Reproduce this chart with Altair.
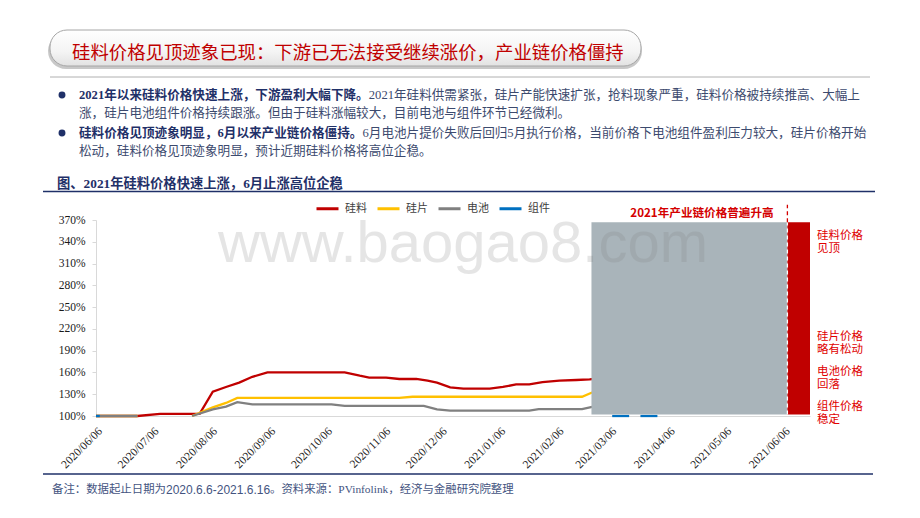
import altair as alt
import pandas as pd

# ------------------------------------------------------------------ data
series_names = ["硅料", "硅片", "电池", "组件"]
series_colors = ["#C00000", "#FFC000", "#808080", "#0070C0"]

poly_dates = ["2020-06-06", "2020-06-28", "2020-07-10", "2020-07-31", "2020-08-07",
              "2020-08-14", "2020-08-21", "2020-08-28", "2020-09-05", "2020-10-16",
              "2020-10-24", "2020-10-29", "2020-11-07", "2020-11-14", "2020-11-23",
              "2020-11-29", "2020-12-04", "2020-12-11", "2020-12-18", "2021-01-01",
              "2021-01-08", "2021-01-15", "2021-01-22", "2021-01-29", "2021-02-07",
              "2021-02-16", "2021-02-23", "2021-03-01"]
poly_values = [100, 100, 103, 103, 133.5, 140, 146, 154, 160, 160,
               155.5, 153, 153, 151, 151, 148.6, 146, 139.5, 137.6, 137.6,
               140, 143.6, 143.6, 146.8, 148.6, 149.6, 150.5, 152]

wafer_dates_1 = ["2020-06-06", "2020-06-28"]
wafer_values_1 = [100, 100]
wafer_dates_2 = ["2020-07-27", "2020-08-07", "2020-08-14", "2020-08-20", "2020-11-14",
                 "2020-11-21", "2021-02-19", "2021-02-24", "2021-03-01"]
wafer_values_2 = [100, 112, 118, 125, 125, 126.5, 126.5, 132, 136]

cell_dates_1 = ["2020-06-06", "2020-06-28"]
cell_values_1 = [100, 100]
cell_dates_2 = ["2020-07-27", "2020-08-07", "2020-08-14", "2020-08-20", "2020-08-28",
                "2020-10-09", "2020-10-16", "2020-11-27", "2020-12-04", "2020-12-11",
                "2021-01-22", "2021-01-27", "2021-02-19", "2021-02-25", "2021-03-01"]
cell_values_2 = [100, 109, 113, 119, 116, 116, 114, 114, 109, 107.5,
                 107.5, 109.5, 109.5, 113, 115]

module_dates_1 = ["2020-06-06", "2020-06-08"]
module_values_1 = [100, 100]
module_dates_2 = ["2021-03-07", "2021-03-16"]
module_values_2 = [100, 100]
module_dates_3 = ["2021-03-22", "2021-03-31"]
module_values_3 = [100, 100]

x_ticks = ["2020-06-06", "2020-07-06", "2020-08-06", "2020-09-06", "2020-10-06",
           "2020-11-06", "2020-12-06", "2021-01-06", "2021-02-06", "2021-03-06",
           "2021-04-06", "2021-05-06", "2021-06-06"]
y_ticks = [100, 130, 160, 190, 220, 250, 280, 310, 340, 370]
x_start, x_end = "2020-06-06", "2021-06-20"
y_low, y_high = 100, 370

# highlighted periods
box_start, box_end, bar_end = "2021-02-24", "2021-06-08", "2021-06-20"
box_low, box_high, marker_top = 102, 367, 391

# ------------------------------------------------------------------ build
rows = []


def add(series, seg, dates, values):
    for d, v in zip(dates, values):
        rows.append({"series": series, "seg": f"{series}{seg}", "date": d, "value": v})


add("硅料", 1, poly_dates, poly_values)
add("硅片", 1, wafer_dates_1, wafer_values_1)
add("硅片", 2, wafer_dates_2, wafer_values_2)
add("电池", 1, cell_dates_1, cell_values_1)
add("电池", 2, cell_dates_2, cell_values_2)
add("组件", 1, module_dates_1, module_values_1)
add("组件", 2, module_dates_2, module_values_2)
add("组件", 3, module_dates_3, module_values_3)
df = pd.DataFrame(rows)


def dt(s):
    y, m, d = (int(p) for p in s.split("-"))
    return alt.DateTime(year=y, month=m, date=d, utc=True)


SERIF = "Liberation Serif, Noto Sans CJK SC"
SANS = "Noto Sans CJK SC"
NAVY = "#1F3068"
TEXTC = "#3C4A6E"

# plot origin on the page
OX, OY = 96, 220


def px(v):
    return v - OX


def py(v):
    return v - OY


one = pd.DataFrame({"k": [0]})

xscale = alt.Scale(type="utc", domain=[dt(x_start), dt(x_end)])
yscale = alt.Scale(domain=[y_low, y_high], nice=False, zero=False)

lines = alt.Chart(df).mark_line(strokeWidth=2.3).encode(
    x=alt.X("date:T", scale=xscale, title=None,
            axis=alt.Axis(values=[dt(t) for t in x_ticks], format="%Y/%m/%d",
                          tickCount=len(x_ticks) + 2,
                          labelAngle=-45, labelAlign="right", labelBaseline="top",
                          labelFont=SERIF, labelFontSize=11.5, labelColor="#1a1a1a",
                          domainColor="#d9d9d9", ticks=False, grid=False,
                          labelPadding=9, labelOverlap=False, title=None)),
    y=alt.Y("value:Q", scale=yscale, title=None,
            axis=alt.Axis(values=y_ticks, tickCount=len(y_ticks) + 2,
                          labelExpr="datum.value + '%'",
                          labelFont=SERIF, labelFontSize=11.5, labelColor="#1a1a1a",
                          domainColor="#d9d9d9", tickColor="#d9d9d9", tickSize=4,
                          labelPadding=7, grid=False, title=None,
                          labelOverlap=False, labelFlush=False)),
    color=alt.Color("series:N",
                    scale=alt.Scale(domain=series_names, range=series_colors),
                    legend=alt.Legend(orient="none", legendX=px(315), legendY=py(196),
                                      direction="horizontal", title=None,
                                      symbolType="stroke", symbolSize=484,
                                      symbolStrokeWidth=3, labelFont=SANS,
                                      labelFontSize=11, labelColor="#404040",
                                      labelOffset=5, columnPadding=4, padding=0)),
    detail="seg:N",
)

box_df = pd.DataFrame({"date": [box_start], "date2": [box_end],
                       "value": [box_low], "value2": [box_high]})
bar_df = pd.DataFrame({"date": [box_end], "date2": [bar_end],
                       "value": [box_low], "value2": [box_high]})
mark_df = pd.DataFrame({"date": [box_end], "value": [box_low], "value2": [box_high]})
mark_top_df = pd.DataFrame({"date": [box_end], "value": [box_high], "value2": [marker_top]})

box = alt.Chart(box_df).mark_rect(color="#A9B4BA").encode(
    x=alt.X("date:T", title=None), x2="date2:T",
    y=alt.Y("value:Q", title=None), y2="value2:Q")
bar = alt.Chart(bar_df).mark_rect(color="#C00000").encode(
    x=alt.X("date:T", title=None), x2="date2:T",
    y=alt.Y("value:Q", title=None), y2="value2:Q")
dash_white = alt.Chart(mark_df).mark_rule(color="#ffffff", strokeDash=[4, 3],
                                          strokeWidth=1.3).encode(
    x=alt.X("date:T", title=None), y=alt.Y("value:Q", title=None), y2="value2:Q")
dash_red = alt.Chart(mark_top_df).mark_rule(color="#D40000", strokeDash=[4, 3],
                                            strokeWidth=1.3).encode(
    x=alt.X("date:T", title=None), y=alt.Y("value:Q", title=None), y2="value2:Q")


def txt(s, x, y, size, color, font=SANS, weight="normal", align="left",
        baseline="middle", **kw):
    return alt.Chart(one).mark_text(font=font, fontSize=size, color=color,
                                    fontWeight=weight, align=align,
                                    baseline=baseline, **kw).encode(
        x=alt.value(px(x)), y=alt.value(py(y)), text=alt.value(s))


def hline(x1, x2, y, color, width):
    return alt.Chart(one).mark_rule(color=color, strokeWidth=width).encode(
        x=alt.value(px(x1)), x2=alt.value(px(x2)), y=alt.value(py(y)))


def rrect(x1, x2, y1, y2, **kw):
    return alt.Chart(one).mark_rect(**kw).encode(
        x=alt.value(px(x1)), x2=alt.value(px(x2)),
        y=alt.value(py(y1)), y2=alt.value(py(y2)))


watermark = txt("www.baogao8.com", 218, 262, 58, "#808080", font="Liberation Sans",
                baseline="alphabetic", opacity=0.2)

# banner
banner_shadow = rrect(48, 642, 33, 69, cornerRadius=18, fill="#9a9a9a", opacity=0.55)
banner = rrect(50, 641, 30, 66, cornerRadius=17, strokeWidth=1, stroke="#a6a6a6",
               fill=alt.LinearGradient(gradient="linear",
                                       stops=[alt.GradientStop(color="#ffffff", offset=0),
                                              alt.GradientStop(color="#f4f4f4", offset=0.6),
                                              alt.GradientStop(color="#e2e2e2", offset=1)],
                                       x1=0, x2=0, y1=0, y2=1))
title = txt("硅料价格见顶迹象已现：下游已无法接受继续涨价，产业链价格僵持",
            72, 53, 18.4, "#C00000")
top_rule = hline(50, 870, 77, "#b0b0b0", 1)

# bullets
B = 12.6
dot1 = alt.Chart(one).mark_point(filled=True, shape="circle", size=48, color=NAVY,
                                 opacity=1).encode(x=alt.value(px(62)), y=alt.value(py(95)))
dot2 = alt.Chart(one).mark_point(filled=True, shape="circle", size=48, color=NAVY,
                                 opacity=1).encode(x=alt.value(px(62)), y=alt.value(py(133)))
l1b = txt("2021年以来硅料价格快速上涨，下游盈利大幅下降。", 79, 95, B, NAVY, SERIF, "bold")
l1n = txt("2021年硅料供需紧张，硅片产能快速扩张，抢料现象严重，硅料价格被持续推高、大幅上",
          79 + 23 * B, 95, B, TEXTC, SERIF)
l2 = txt("涨，硅片电池组件价格持续跟涨。但由于硅料涨幅较大，目前电池与组件环节已经微利。",
         79, 113, B, TEXTC, SERIF)
l3b = txt("硅料价格见顶迹象明显，6月以来产业链价格僵持。", 79, 133, B, NAVY, SERIF, "bold")
l3n = txt("6月电池片提价失败后回归5月执行价格，当前价格下电池组件盈利压力较大，硅片价格开始",
          79 + 22.5 * B, 133, B, TEXTC, SERIF)
l4 = txt("松动，硅料价格见顶迹象明显，预计近期硅料价格将高位企稳。", 79, 151, B, TEXTC, SERIF)

subtitle = txt("图、2021年硅料价格快速上涨，6月止涨高位企稳", 57, 184, 13.3, NAVY, SERIF, "bold")
sub_rule = hline(43, 875, 191.5, NAVY, 1.5)
bottom_rule = hline(43, 873, 474, NAVY, 1.5)

FN = 11.4
foot1 = txt("备注：数据起止日期为", 52, 490, FN, "#44547F", SERIF)
foot2 = txt("2020.6.6-2021.6.16", 52 + 10 * FN, 490, 12, "#44547F", "Liberation Sans")
foot3 = txt("。资料来源：PVinfolink，经济与金融研究院整理", 270, 490, FN, "#44547F", SERIF)

# chart annotations
RED = "#E00000"
period_title = txt("2021年产业链价格普遍升高", 702, 214, 11.6, "#D40000", SANS, "bold",
                   align="center")
notes = [
    txt("硅料价格\n见顶", 817, 229.5, 11.5, RED, SANS, baseline="top", lineBreak="\n", lineHeight=13.5),
    txt("硅片价格\n略有松动", 817, 330.5, 11.5, RED, SANS, baseline="top", lineBreak="\n", lineHeight=13.5),
    txt("电池价格\n回落", 817, 365.5, 11.5, RED, SANS, baseline="top", lineBreak="\n", lineHeight=13.5),
    txt("组件价格\n稳定", 817, 400.5, 11.5, RED, SANS, baseline="top", lineBreak="\n", lineHeight=13.5),
]

chart = alt.layer(
    lines, box, bar, dash_white, dash_red, watermark,
    banner_shadow, banner, title, top_rule,
    dot1, dot2, l1b, l1n, l2, l3b, l3n, l4,
    subtitle, sub_rule, bottom_rule, foot1, foot2, foot3,
    period_title, *notes,
).properties(
    width=714, height=196,
    padding={"left": 88, "top": 212, "right": 102, "bottom": 94},
    autosize=alt.AutoSizeParams(type="none"),
).configure_view(strokeWidth=0).configure_axis(labelOverlap=False)

chart.save("out.html", embed_options={"renderer": "svg", "actions": False})
